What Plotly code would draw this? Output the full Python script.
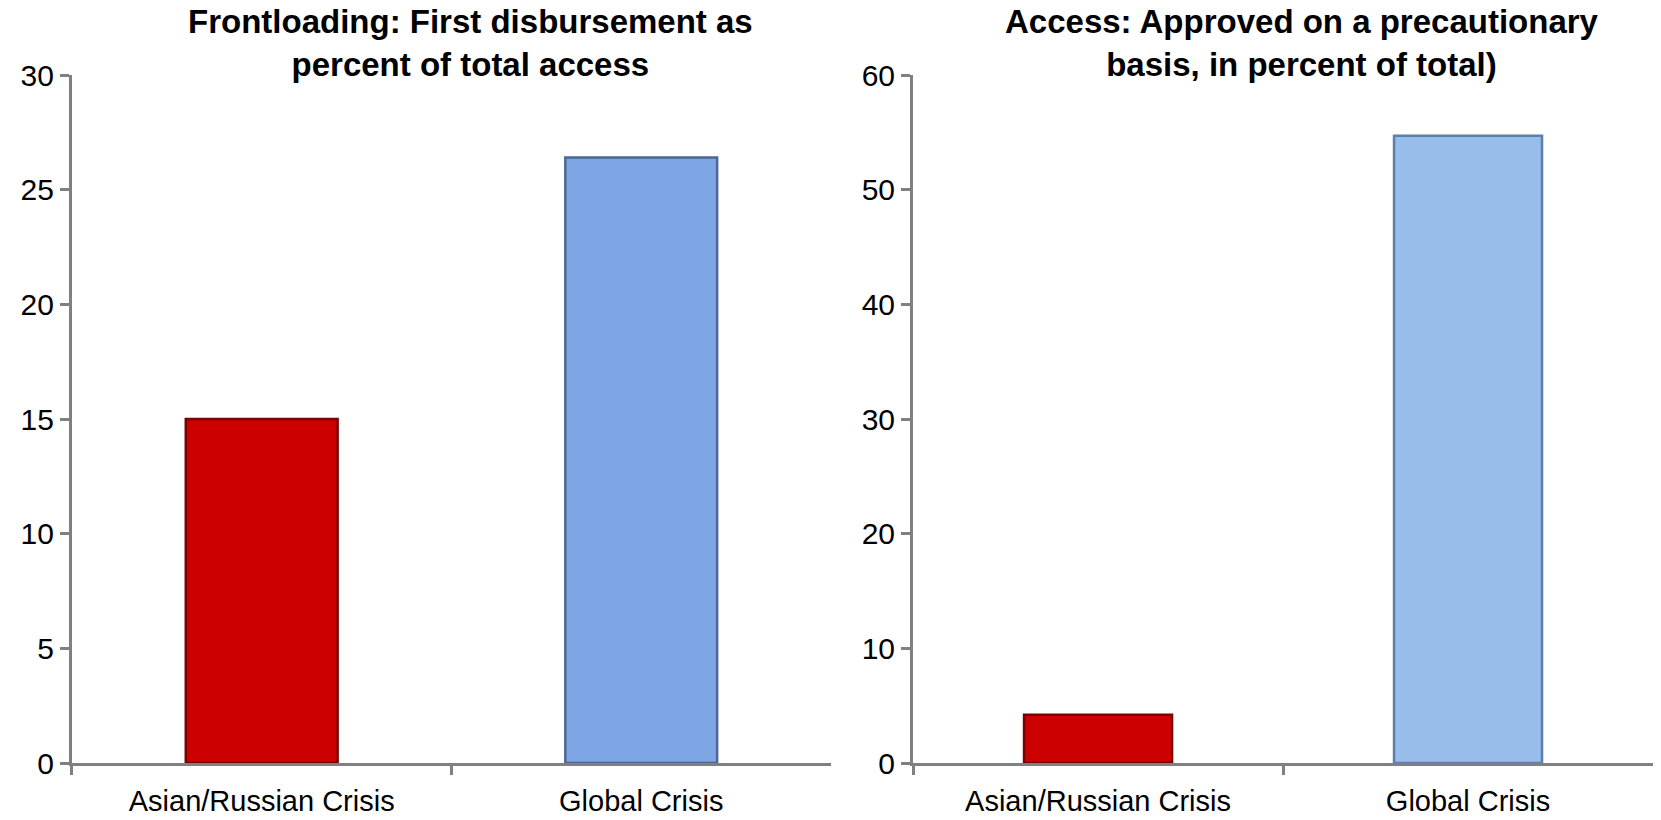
import plotly.graph_objects as go
from plotly.subplots import make_subplots

categories = ["Asian/Russian Crisis", "Global Crisis"]
frontloading = [15.0, 26.4]
precautionary = [4.2, 54.7]
left_title = "Frontloading: First disbursement as<br>percent of total access"
right_title = "Access: Approved on a precautionary<br>basis, in percent of total)"
left_ticks = [0, 5, 10, 15, 20, 25, 30]
right_ticks = [0, 10, 20, 30, 40, 50, 60]

FONT = "Liberation Sans, Arial, sans-serif"

fig = make_subplots(rows=1, cols=2)

fig.add_trace(go.Bar(x=categories, y=frontloading,
                     marker=dict(color=["#CC0000", "#7EA5E3"],
                                 line=dict(color=["#7A0000", "#4A6796"], width=2.5)),
                     width=0.40), row=1, col=1)
fig.add_trace(go.Bar(x=categories, y=precautionary,
                     marker=dict(color=["#CC0000", "#98BDEB"],
                                 line=dict(color=["#7A0000", "#5F7FA8"], width=2.5)),
                     width=0.40), row=1, col=2)

axis_common = dict(showline=True, linecolor="#808080", linewidth=3, ticks="outside",
                   tickcolor="#808080", tickwidth=3, ticklen=9, showgrid=False,
                   zeroline=False, automargin=False)

fig.update_xaxes(**axis_common, tickson="boundaries", ticklabelstandoff=10,
                 tickfont=dict(family=FONT, size=29, color="#000000"))
fig.update_yaxes(**axis_common, tickfont=dict(family=FONT, size=30, color="#000000"))

fig.update_layout(
    xaxis=dict(domain=[0.0433, 0.5003]),
    xaxis2=dict(domain=[0.5497, 0.9952]),
    yaxis=dict(domain=[0.0695, 0.9085], range=[0, 30], tickvals=left_ticks),
    yaxis2=dict(domain=[0.0695, 0.9085], range=[0, 60], tickvals=right_ticks),
    width=1661, height=820,
    margin=dict(l=0, r=0, t=0, b=0),
    paper_bgcolor="white", plot_bgcolor="white",
    showlegend=False,
    annotations=[
        dict(text="<b>" + left_title + "</b>", x=470 / 1661, y=1 - 1 / 820,
             xref="paper", yref="paper", xanchor="center", yanchor="top",
             showarrow=False, font=dict(family=FONT, size=33, color="#000000")),
        dict(text="<b>" + right_title + "</b>", x=1302 / 1661, y=1 - 1 / 820,
             xref="paper", yref="paper", xanchor="center", yanchor="top",
             showarrow=False, font=dict(family=FONT, size=33, color="#000000")),
    ],
)

fig.write_html("out.html")
